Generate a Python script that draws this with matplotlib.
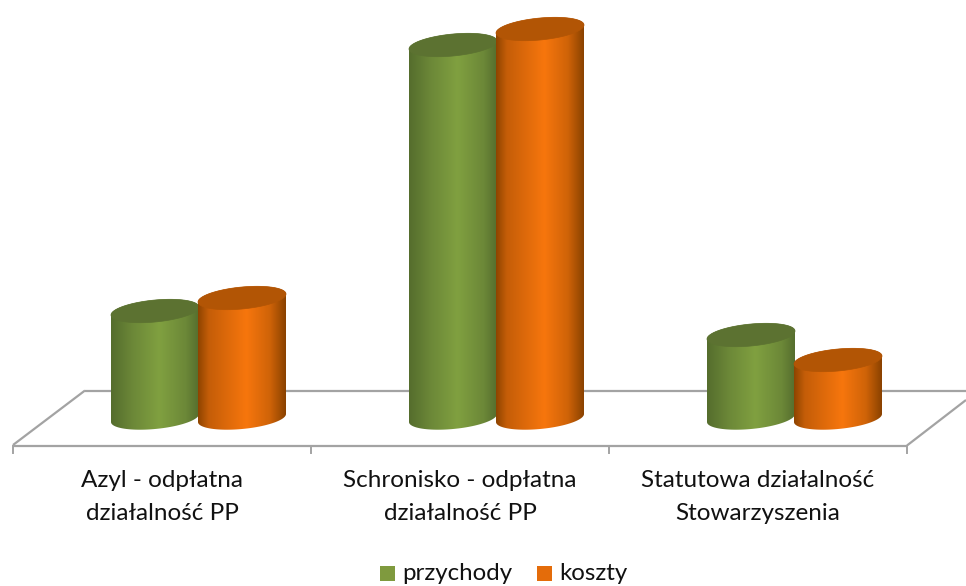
"""3D-style cylinder column chart"""

import matplotlib
matplotlib.use('Agg')
import matplotlib.pyplot as plt
import numpy as np
from matplotlib.colors import LinearSegmentedColormap
from matplotlib.path import Path
from matplotlib.patches import PathPatch, Polygon, Rectangle

plt.rcParams['font.family'] = ['Lato', 'DejaVu Sans']

# data (in pixels of column height)
categories = ['Azyl - odpłatna\ndziałalność PP',
              'Schronisko - odpłatna\ndziałalność PP',
              'Statutowa działalność\nStowarzyszenia']
series_names = ['przychody', 'koszty']
przychody = [107, 373, 83]
koszty = [120, 389, 58]

# styles
GREEN_STOPS = [(0, '#556D2D'), (0.25, '#6C8838'), (0.55, '#80A040'), (0.85, '#6C8838'), (1, '#566E2E')]
ORANGE_STOPS = [(0, '#8E4400'), (0.12, '#C45D08'), (0.55, '#F7760D'), (0.82, '#CF6308'), (1, '#8A4200')]
TOPS = ['#5C7231', '#B25505']
LEGEND_COLORS = ['#7F9A3E', '#E46C0A']
GRID = '#A3A3A3'

# layout in pixels
BASE_Y = 418
A, B, TILT = 44, 11, 4
TICKS = [13, 311, 609, 907]

fig = plt.figure(figsize=(9.66, 5.86), dpi=100)
ax = fig.add_axes([0, 0, 1, 1])


def ellipse(cx, cy, t):
    return np.column_stack([cx + A * np.cos(t), cy + B * np.sin(t) - TILT * np.cos(t)])


def cylinder(cx, height, stops, top_color):
    top_y = BASE_Y - height
    # lower arc of the base, then back along the top
    low = ellipse(cx, BASE_Y, np.linspace(0, np.pi, 60))
    up = ellipse(cx, top_y, np.linspace(np.pi, 2 * np.pi, 60))
    verts = np.vstack([low, up, low[:1]])
    codes = [Path.MOVETO] + [Path.LINETO] * (len(verts) - 2) + [Path.CLOSEPOLY]
    clip = PathPatch(Path(verts, codes), transform=ax.transData, fc='none', ec='none')
    ax.add_patch(clip)
    cmap = LinearSegmentedColormap.from_list('c', stops)
    grad = np.linspace(0, 1, 256).reshape(1, -1)
    im = ax.imshow(grad, cmap=cmap, aspect='auto', interpolation='bilinear', zorder=3,
                   extent=[cx - A, cx + A, BASE_Y + B + 6, top_y - B - 6])
    im.set_clip_path(clip)
    ax.add_patch(Polygon(ellipse(cx, top_y, np.linspace(0, 2 * np.pi, 120)),
                         closed=True, fc=top_color, ec=top_color, lw=0.5, zorder=3))


# floor of the 3D chart
line_style = dict(color=GRID, lw=1.6, zorder=1, solid_capstyle='butt')
ax.plot([85, 966], [390.5, 390.5], **line_style)
ax.plot([13, 85], [445, 390.5], **line_style)
ax.plot([13, 907], [445.5, 445.5], **line_style)
ax.plot([907, 966], [445.5, 400], **line_style)
for x in TICKS:
    ax.plot([x, x], [445.5, 453], color=GRID, lw=1.4, zorder=1)

for i, cat in enumerate(categories):
    tick_mid = (TICKS[i] + TICKS[i + 1]) / 2
    cylinder(tick_mid + 36.5 - 43.5, przychody[i], GREEN_STOPS, TOPS[0])
    cylinder(tick_mid + 36.5 + 43.5, koszty[i], ORANGE_STOPS, TOPS[1])
    ax.text(tick_mid, 497, cat, ha='center', va='center', fontsize=17.5,
            color='#111111', linespacing=1.72)

# legend
for sq_x, text_x, name, col in zip([380, 537], [402, 559], series_names, LEGEND_COLORS):
    ax.add_patch(Rectangle((sq_x, 566), 15, 15, fc=col, ec='none'))
    ax.text(text_x, 574, name, ha='left', va='center', fontsize=17.3, color='#111111')

ax.set_xlim(0, 966)
ax.set_ylim(586, 0)
ax.axis('off')

fig.savefig('out.png', dpi=100)
